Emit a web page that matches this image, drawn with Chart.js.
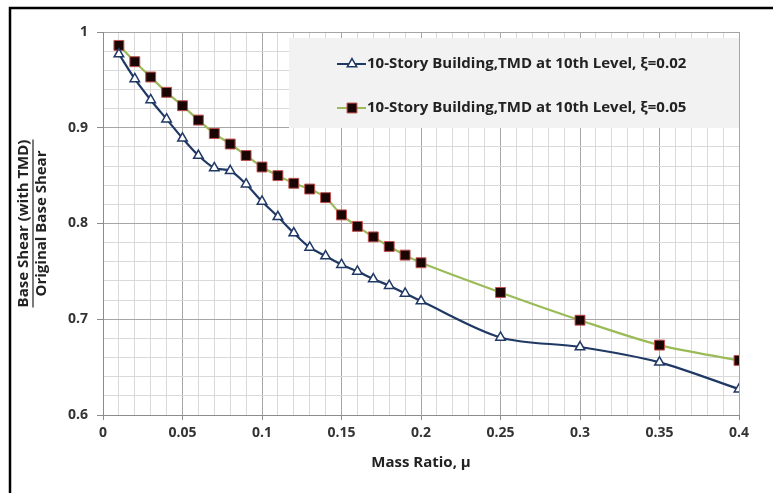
<!DOCTYPE html>
<html>
<head>
<meta charset="utf-8">
<script src="https://cdn.jsdelivr.net/npm/chart.js@4/dist/chart.umd.min.js"></script>
<style>
  html, body { margin: 0; padding: 0; background: #fff; }
  #cadre { position: relative; width: 773px; height: 493px; }
</style>
</head>
<body>
<div id="cadre"><canvas id="graphique" width="773" height="493"></canvas></div>
<script>
// Mass ratio values (x) shared by both curves
const massRatio = [0.01, 0.02, 0.03, 0.04, 0.05, 0.06, 0.07, 0.08, 0.09, 0.10,
  0.11, 0.12, 0.13, 0.14, 0.15, 0.16, 0.17, 0.18, 0.19, 0.20,
  0.25, 0.30, 0.35, 0.40];

// Base shear ratio, damping 0.02
const shearXi002 = [0.977, 0.951, 0.929, 0.909, 0.889, 0.871, 0.858, 0.855, 0.841, 0.823,
  0.807, 0.790, 0.775, 0.766, 0.757, 0.750, 0.742, 0.735, 0.727, 0.719,
  0.681, 0.671, 0.655, 0.627];

// Base shear ratio, damping 0.05
const shearXi005 = [0.986, 0.969, 0.953, 0.937, 0.923, 0.908, 0.894, 0.883, 0.871, 0.859,
  0.850, 0.842, 0.836, 0.827, 0.809, 0.797, 0.786, 0.776, 0.767, 0.759,
  0.728, 0.699, 0.673, 0.657];

const seriesLabels = [
  '10-Story Building,TMD at 10th Level, ξ=0.02',
  '10-Story Building,TMD at 10th Level, ξ=0.05'
];

const xTitle = 'Mass Ratio, μ';
const yTitleTop = 'Base Shear (with TMD)';
const yTitleBottom = 'Original Base Shear';

const POLICE = '"Open Sans", Lato, sans-serif';
const BLEU = '#1f3864';
const VERT = '#9bbb59';
const ROUGE = '#c0504d';

function points(xs, ys) {
  return xs.map((x, i) => ({ x: x, y: ys[i] }));
}

// major lines every 0.05 on x, 0.1 on y
function estMajeur(valeur, pas) {
  return Math.round(valeur * 100) % pas === 0;
}

// legend box drawn inside the plot, over the grid
const legendeMaison = {
  id: 'legendeMaison',
  beforeDatasetsDraw(chart) {
    const ctx = chart.ctx;
    const ca = chart.chartArea;
    ctx.save();
    ctx.fillStyle = '#f2f2f2';
    ctx.fillRect(289, 38, ca.right - 289, 90);
    ctx.font = 'bold 15px ' + POLICE;
    ctx.textBaseline = 'middle';
    const lignes = [
      { y: 64, couleur: BLEU, ds: chart.data.datasets[0] },
      { y: 108, couleur: VERT, ds: chart.data.datasets[1] }
    ];
    lignes.forEach((l, i) => {
      ctx.strokeStyle = l.couleur;
      ctx.lineWidth = 2;
      ctx.beginPath();
      ctx.moveTo(337, l.y);
      ctx.lineTo(366, l.y);
      ctx.stroke();
      ctx.fillStyle = l.ds.pointBackgroundColor;
      ctx.strokeStyle = l.ds.pointBorderColor;
      ctx.lineWidth = l.ds.pointBorderWidth;
      Chart.helpers.drawPoint(ctx, {
        pointStyle: l.ds.pointStyle, radius: l.ds.pointRadius,
        borderWidth: l.ds.pointBorderWidth, rotation: 0
      }, 352, l.y);
      ctx.fillStyle = '#222';
      ctx.fillText(seriesLabels[i], 367, l.y);
    });
    ctx.restore();
  }
};

// axis titles (y one is a fraction) and the frame
const titresMaison = {
  id: 'titresMaison',
  afterDraw(chart) {
    const ctx = chart.ctx;
    const ca = chart.chartArea;
    ctx.save();
    ctx.fillStyle = '#222';
    ctx.font = 'bold 15px ' + POLICE;
    ctx.textAlign = 'center';
    ctx.textBaseline = 'middle';
    ctx.fillText(xTitle, (ca.left + ca.right) / 2, 463);

    const cy = (ca.top + ca.bottom) / 2;
    ctx.translate(33, cy);
    ctx.rotate(-Math.PI / 2);
    ctx.fillText(yTitleTop, 0, -9);
    ctx.fillText(yTitleBottom, 0, 9);
    const w = ctx.measureText(yTitleTop).width;
    ctx.strokeStyle = '#222';
    ctx.lineWidth = 1.2;
    ctx.beginPath();
    ctx.moveTo(-w / 2, 0);
    ctx.lineTo(w / 2, 0);
    ctx.stroke();
    ctx.restore();

    ctx.save();
    ctx.strokeStyle = '#000';
    ctx.lineWidth = 2.5;
    ctx.beginPath();
    ctx.moveTo(10, 493);
    ctx.lineTo(10, 8);
    ctx.lineTo(773, 8);
    ctx.stroke();
    ctx.restore();
  }
};

new Chart(document.getElementById('graphique'), {
  type: 'line',
  data: {
    datasets: [{
      label: seriesLabels[0],
      data: points(massRatio, shearXi002),
      borderColor: BLEU,
      borderWidth: 2.2,
      tension: 0.3,
      pointStyle: 'triangle',
      pointRadius: 5.5,
      pointBackgroundColor: '#ffffff',
      pointBorderColor: BLEU,
      pointBorderWidth: 1.5
    }, {
      label: seriesLabels[1],
      data: points(massRatio, shearXi005),
      borderColor: VERT,
      borderWidth: 2.2,
      tension: 0.3,
      pointStyle: 'rect',
      pointRadius: 7,
      pointBackgroundColor: '#1a0505',
      pointBorderColor: ROUGE,
      pointBorderWidth: 1
    }]
  },
  options: {
    responsive: false,
    animation: false,
    devicePixelRatio: 1,
    layout: { padding: { left: 12, right: 34, top: 32, bottom: 0 } },
    plugins: { legend: { display: false }, tooltip: { enabled: false } },
    scales: {
      x: {
        type: 'linear',
        min: 0,
        max: 0.4,
        afterFit(scale) { scale.height = 78; },
        border: { color: '#8c8c8c', width: 1 },
        grid: {
          color: ctx => estMajeur(ctx.tick.value, 5) ? '#a6a6a6' : '#d9d9d9',
          tickColor: ctx => estMajeur(ctx.tick.value, 5) ? '#8c8c8c' : 'rgba(0,0,0,0)',
          tickLength: 5
        },
        ticks: {
          stepSize: 0.01,
          maxTicksLimit: 60,
          autoSkip: false,
          maxRotation: 0,
          padding: 5,
          color: '#333',
          font: { family: POLICE, size: 14, weight: 'bold' },
          callback: v => estMajeur(v, 5) ? String(Math.round(v * 100) / 100) : ''
        }
      },
      y: {
        min: 0.6,
        max: 1,
        afterFit(scale) { scale.width = 91; },
        border: { color: '#8c8c8c', width: 1 },
        grid: {
          color: ctx => estMajeur(ctx.tick.value, 10) ? '#a6a6a6' : '#d9d9d9',
          tickColor: ctx => estMajeur(ctx.tick.value, 10) ? '#8c8c8c' : 'rgba(0,0,0,0)',
          tickLength: 6
        },
        ticks: {
          stepSize: 0.02,
          maxTicksLimit: 40,
          autoSkip: false,
          padding: 9,
          color: '#333',
          font: { family: POLICE, size: 14, weight: 'bold' },
          callback: v => estMajeur(v, 10) ? String(Math.round(v * 10) / 10) : ''
        }
      }
    }
  },
  plugins: [legendeMaison, titresMaison]
});
</script>
</body>
</html>
